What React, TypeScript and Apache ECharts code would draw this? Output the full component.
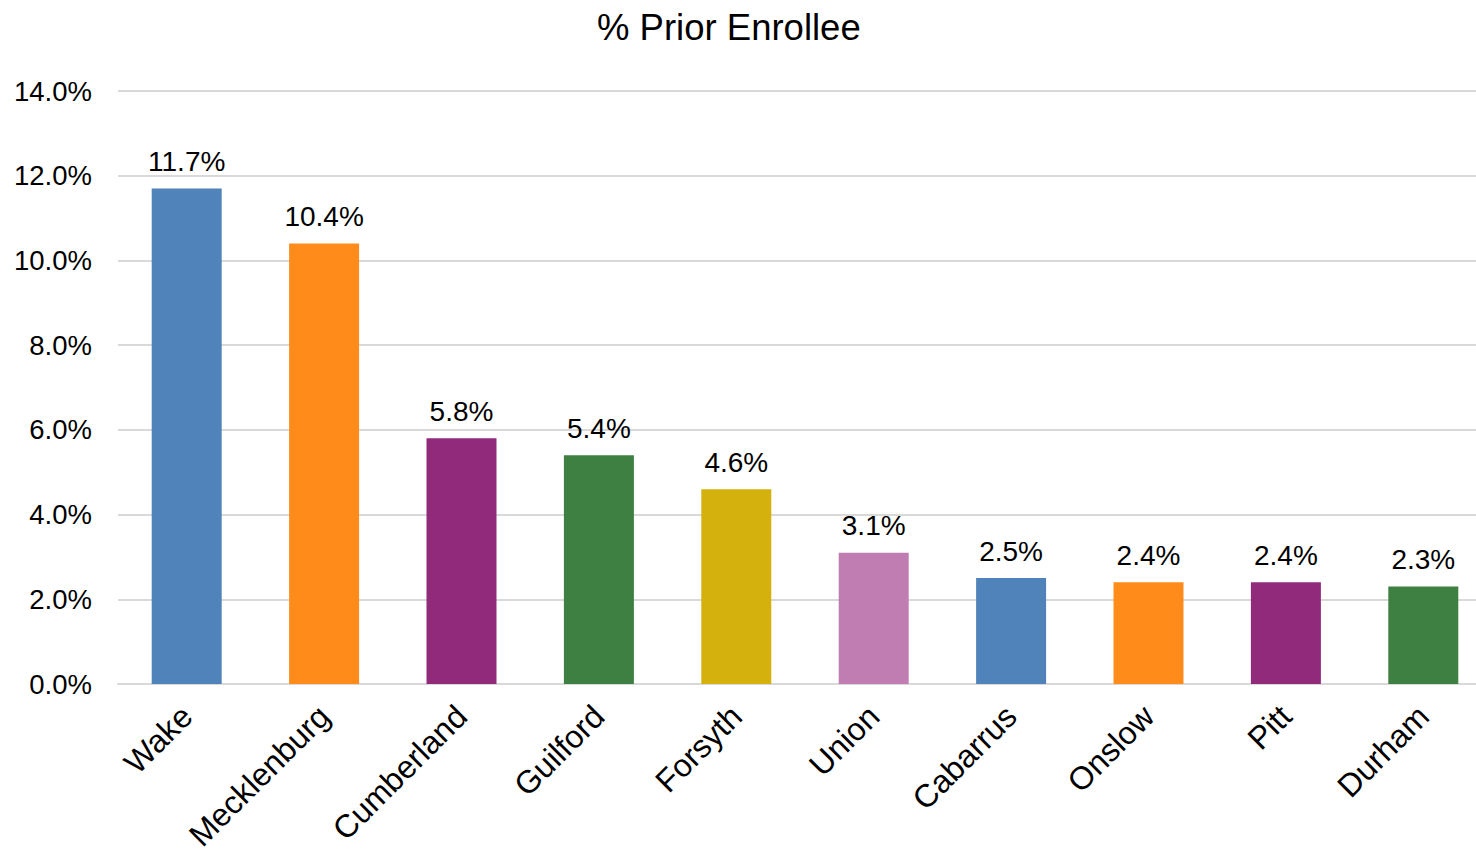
import React, { useEffect, useRef } from "react";
import * as echarts from "echarts";

const categories = ["Wake", "Mecklenburg", "Cumberland", "Guilford", "Forsyth", "Union", "Cabarrus", "Onslow", "Pitt", "Durham"];
const values = [11.7, 10.4, 5.8, 5.4, 4.6, 3.1, 2.5, 2.4, 2.4, 2.3];
const colors = ["#4F83BA", "#FF8C1A", "#922A7C", "#3E8042", "#D4B10D", "#C07DB1", "#4F83BA", "#FF8C1A", "#922A7C", "#3E8042"];

export default function App() {
  const ref = useRef<HTMLDivElement>(null);
  useEffect(() => {
    const chart = echarts.init(ref.current!, null, { renderer: "svg" });
    chart.setOption({
      animation: false,
      backgroundColor: "#fff",
      textStyle: { fontFamily: "Liberation Sans, Arial, sans-serif" },
      title: {
        text: "% Prior Enrollee",
        left: 592,
        top: 4,
        textStyle: { fontSize: 36.5, fontWeight: "normal", color: "#000", fontFamily: "Liberation Sans, Arial, sans-serif" },
      },
      grid: { left: 118, right: 0, top: 91, bottom: 165, containLabel: false, outerBoundsMode: "none" },
      xAxis: {
        type: "category",
        data: categories,
        axisLine: { lineStyle: { color: "#d9d9d9", width: 2 } },
        axisTick: { show: false },
        axisLabel: { rotate: 45, fontSize: 32, color: "#000", margin: 27, interval: 0 },
      },
      yAxis: {
        type: "value",
        min: 0,
        max: 14,
        interval: 2,
        axisLine: { show: false },
        axisTick: { show: false },
        splitLine: { lineStyle: { color: "#d9d9d9", width: 2 } },
        axisLabel: { fontSize: 27.5, color: "#000", margin: 26, formatter: (v: number) => v.toFixed(1) + "%" },
      },
      series: [
        {
          type: "bar",
          data: values.map((v, i) => ({ value: v, itemStyle: { color: colors[i] } })),
          barWidth: 70,
          label: {
            show: true,
            position: "top",
            distance: 13,
            fontSize: 28,
            color: "#000",
            formatter: (p: any) => p.value.toFixed(1) + "%",
          },
        },
      ],
    });
    return () => chart.dispose();
  }, []);
  return <div ref={ref} style={{ position: "fixed", left: 0, top: 0, width: 1492, height: 849 }} />;
}
